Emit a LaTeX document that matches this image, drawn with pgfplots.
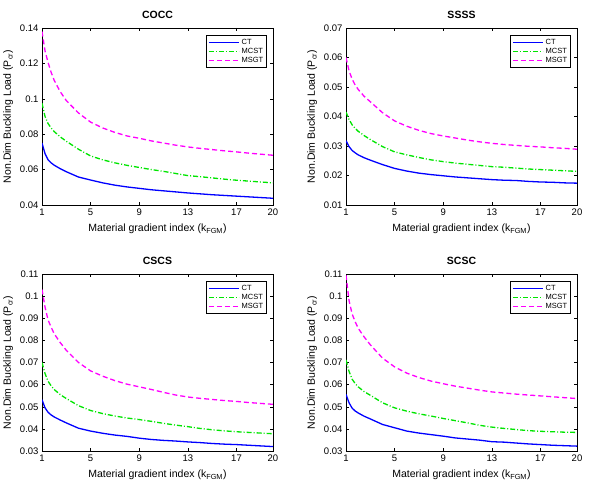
\documentclass[border=0pt]{standalone}
\usepackage{pgfplots}
\pgfplotsset{compat=1.18}
\usepackage{pgfplotstable}
\usepackage{fontspec}
\setmainfont{Liberation Sans}

\pgfplotstableread{
k ct mcst msgt
1 0.0750 0.0975 0.1380
1.25 0.0690 0.0900 0.1270
1.5 0.0655 0.0860 0.1205
1.75 0.0638 0.0835 0.1150
2 0.0625 0.0815 0.1105
2.5 0.0605 0.0785 0.1040
3 0.0588 0.0760 0.0990
4 0.0558 0.0715 0.0920
5 0.0541 0.0677 0.0868
6 0.0525 0.0655 0.0835
7 0.0512 0.0638 0.0810
8 0.0502 0.0624 0.0790
9 0.0494 0.0612 0.0777
10 0.0486 0.0600 0.0762
11 0.0480 0.0590 0.0750
12 0.0474 0.0578 0.0738
13 0.0468 0.0566 0.0728
14 0.0463 0.0560 0.0720
15 0.0458 0.0553 0.0713
16 0.0454 0.0546 0.0706
17 0.0450 0.0540 0.0700
18 0.0446 0.0535 0.0693
19 0.0442 0.0530 0.0687
20 0.0438 0.0525 0.0681
}\tabA

\pgfplotstableread{
k ct mcst msgt
1 0.0318 0.0415 0.0600
1.25 0.0298 0.0390 0.0555
1.5 0.0285 0.0372 0.0527
1.75 0.0277 0.0360 0.0507
2 0.0270 0.0350 0.0492
2.5 0.0260 0.0335 0.0468
3 0.0252 0.0322 0.0450
4 0.0237 0.0298 0.0413
5 0.0224 0.0280 0.0385
6 0.0215 0.0270 0.0367
7 0.0208 0.0261 0.0353
8 0.0203 0.0253 0.0342
9 0.0199 0.0247 0.0334
10 0.0195 0.0242 0.0327
11 0.0192 0.0238 0.0320
12 0.0189 0.0234 0.0314
13 0.0186 0.0230 0.0309
14 0.0184 0.0228 0.0305
15 0.0183 0.0225 0.0302
16 0.0180 0.0222 0.0299
17 0.0178 0.0220 0.0297
18 0.0177 0.0218 0.0294
19 0.0175 0.0216 0.0292
20 0.0174 0.0214 0.0289
}\tabB

\pgfplotstableread{
k ct mcst msgt
1 0.0532 0.0700 0.1030
1.25 0.0495 0.0650 0.0950
1.5 0.0475 0.0615 0.0892
1.75 0.0463 0.0595 0.0860
2 0.0454 0.0578 0.0830
2.5 0.0440 0.0555 0.0790
3 0.0427 0.0537 0.0755
4 0.0403 0.0505 0.0700
5 0.0390 0.0483 0.0662
6 0.0380 0.0469 0.0638
7 0.0372 0.0458 0.0618
8 0.0366 0.0449 0.0602
9 0.0358 0.0442 0.0590
10 0.0352 0.0434 0.0578
11 0.0348 0.0425 0.0565
12 0.0345 0.0417 0.0553
13 0.0341 0.0410 0.0544
14 0.0338 0.0402 0.0538
15 0.0334 0.0396 0.0533
16 0.0331 0.0391 0.0528
17 0.0329 0.0387 0.0524
18 0.0326 0.0384 0.0519
19 0.0323 0.0381 0.0515
20 0.0320 0.0378 0.0511
}\tabC

\pgfplotstableread{
k ct mcst msgt
1 0.0556 0.0712 0.1095
1.25 0.0518 0.0660 0.0980
1.5 0.0494 0.0625 0.0920
1.75 0.0481 0.0605 0.0885
2 0.0472 0.0590 0.0855
2.5 0.0457 0.0568 0.0815
3 0.0445 0.0552 0.0780
4 0.0420 0.0518 0.0720
5 0.0405 0.0495 0.0680
6 0.0390 0.0480 0.0652
7 0.0381 0.0468 0.0632
8 0.0374 0.0458 0.0616
9 0.0367 0.0447 0.0604
10 0.0359 0.0437 0.0593
11 0.0354 0.0427 0.0584
12 0.0349 0.0416 0.0575
13 0.0342 0.0408 0.0567
14 0.0340 0.0402 0.0562
15 0.0336 0.0397 0.0557
16 0.0332 0.0392 0.0553
17 0.0329 0.0389 0.0549
18 0.0326 0.0387 0.0545
19 0.0324 0.0385 0.0541
20 0.0322 0.0384 0.0537
}\tabD

\pgfplotsset{
  myax/.style={
    scale only axis, width=231bp, height=177bp,
    xmin=1, xmax=20, xtick={1,5,9,13,17,20},
    tick align=inside, major tick length=3bp,
    axis line style={line width=0.6bp},
    every tick/.style={black, line width=0.5bp},
    scaled y ticks=false,
    yticklabel style={/pgf/number format/.cd, fixed, precision=2},
    /pgf/number format/assume math mode=true,
    tick label style={font=\fontsize{9.5bp}{10bp}\selectfont},
    label style={font=\fontsize{10.5bp}{11bp}\selectfont},
    title style={font=\bfseries\fontsize{10.5bp}{11bp}\selectfont},
    xlabel={Material gradient index (k\textsubscript{FGM})},
    ylabel={Non.Dim Buckling Load (P\textsubscript{cr})},
    xlabel style={yshift=-2bp},
    legend style={at={(0.975,0.96)}, anchor=north east, draw=black,
      line width=0.9bp, font=\fontsize{7.5bp}{8bp}\selectfont,
      inner sep=1.5bp, row sep=-1.5bp, cells={anchor=west}},
    legend image code/.code={\draw[#1] (0bp,0bp) -- (30bp,0bp);},
    every axis plot/.append style={line width=1.3bp},
  },
  ctst/.style={color={rgb,1:red,0;green,0;blue,1}, solid},
  mcst/.style={color={rgb,1:red,0;green,0.9;blue,0}, dash pattern=on 5bp off 2bp on 1bp off 2bp},
  msgt/.style={color={rgb,1:red,1;green,0;blue,1}, dash pattern=on 5bp off 3bp},
}

\begin{document}
\begin{tikzpicture}
\path[use as bounding box] (0,0) rectangle (592bp,483bp);

\begin{axis}[myax, at={(42bp,278bp)}, anchor=south west, title={COCC},
  ymin=0.04, ymax=0.14, ytick={0.04,0.06,0.08,0.1,0.12,0.14}]
\addplot[ctst] table[x=k,y=ct] {\tabA};
\addplot[mcst] table[x=k,y=mcst] {\tabA};
\addplot[msgt] table[x=k,y=msgt] {\tabA};
\legend{CT,MCST,MSGT}
\end{axis}

\begin{axis}[myax, at={(346bp,278bp)}, anchor=south west, title={SSSS},
  ymin=0.01, ymax=0.07, ytick={0.01,0.02,0.03,0.04,0.05,0.06,0.07}]
\addplot[ctst] table[x=k,y=ct] {\tabB};
\addplot[mcst] table[x=k,y=mcst] {\tabB};
\addplot[msgt] table[x=k,y=msgt] {\tabB};
\legend{CT,MCST,MSGT}
\end{axis}

\begin{axis}[myax, at={(42bp,32bp)}, anchor=south west, title={CSCS},
  ymin=0.03, ymax=0.11, ytick={0.03,0.04,0.05,0.06,0.07,0.08,0.09,0.1,0.11}]
\addplot[ctst] table[x=k,y=ct] {\tabC};
\addplot[mcst] table[x=k,y=mcst] {\tabC};
\addplot[msgt] table[x=k,y=msgt] {\tabC};
\legend{CT,MCST,MSGT}
\end{axis}

\begin{axis}[myax, at={(346bp,32bp)}, anchor=south west, title={SCSC},
  ymin=0.03, ymax=0.11, ytick={0.03,0.04,0.05,0.06,0.07,0.08,0.09,0.1,0.11}]
\addplot[ctst] table[x=k,y=ct] {\tabD};
\addplot[mcst] table[x=k,y=mcst] {\tabD};
\addplot[msgt] table[x=k,y=msgt] {\tabD};
\legend{CT,MCST,MSGT}
\end{axis}
\end{tikzpicture}
\end{document}
